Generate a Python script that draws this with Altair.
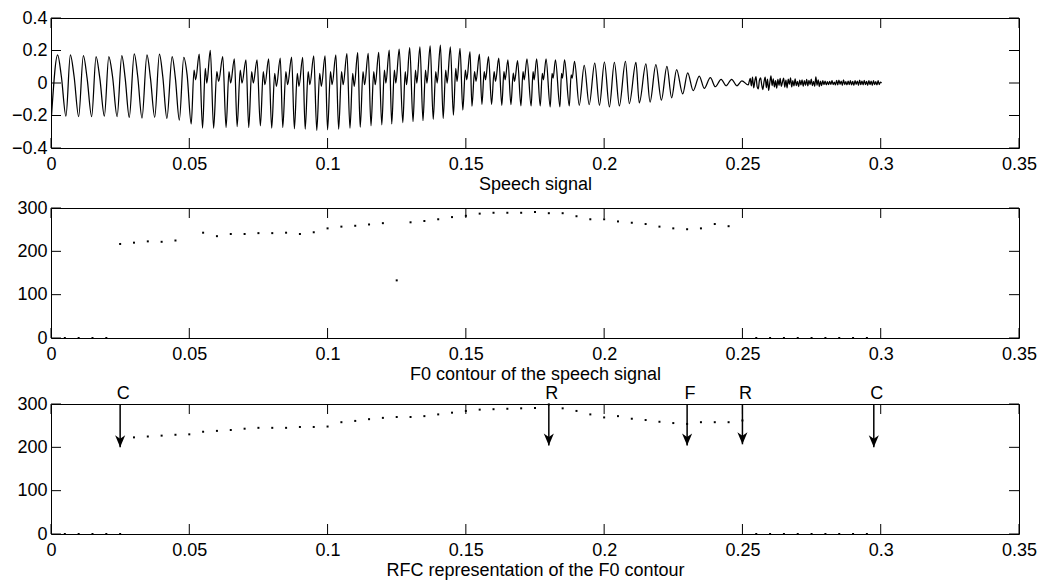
import altair as alt
import pandas as pd

# ------------------------------------------------------------------
# Speech signal: per-cycle extrema (ms, value)
# ------------------------------------------------------------------
trough_ms = [0.2, 5.4, 10.0, 14.7, 19.3, 23.9, 28.3, 32.9, 37.5, 41.9, 46.4, 50.7, 54.8,
             58.8, 63.3, 67.3, 71.5, 75.7, 79.8, 83.8, 88.0, 91.9, 96.1, 100.0, 104.0,
             108.1, 111.8, 115.7, 119.6, 123.2, 127.2, 130.9, 134.5, 138.2, 141.8, 145.5,
             148.9, 152.2, 155.8, 159.3, 163.0, 166.3, 169.9, 173.6, 176.9, 180.5, 184.0,
             187.4, 191.0, 194.6, 198.3, 201.9, 205.5, 209.1, 212.7, 216.6, 220.7, 224.4,
             228.4, 232.2, 236.2, 240.2, 244.1, 248.0, 252.1]
trough_v = [-0.198, -0.204, -0.207, -0.207, -0.204, -0.207, -0.211, -0.216, -0.211, -0.218,
            -0.228, -0.252, -0.278, -0.278, -0.274, -0.268, -0.274,
            -0.264, -0.278, -0.274, -0.282, -0.284, -0.292, -0.288, -0.284, -0.278, -0.272,
            -0.264, -0.258, -0.252, -0.244, -0.238, -0.232, -0.224, -0.218, -0.198,
            -0.167, -0.143, -0.131, -0.131, -0.137, -0.133, -0.141, -0.141, -0.141, -0.147,
            -0.147, -0.141, -0.137, -0.133, -0.137, -0.147, -0.141, -0.127, -0.123, -0.117,
            -0.105, -0.091, -0.067, -0.047, -0.033, -0.023, -0.017, -0.017, -0.012]
peak_ms = [2.4, 7.0, 11.7, 16.3, 20.9, 25.6, 30.1, 34.7, 39.2, 43.8, 48.0, 53.6, 57.6, 62.1,
           66.3, 70.5, 74.5,
           78.7, 82.9, 87.0, 91.0, 95.0, 99.1, 103.0, 107.0, 110.9, 114.7, 118.5, 122.3,
           125.9, 129.7, 133.4, 137.1, 140.8, 144.4, 147.9,
           151.5, 154.9, 158.2, 161.9, 165.2, 168.7, 172.1, 175.6, 179.0, 182.4, 185.7,
           189.3, 192.8, 196.6, 200.1, 203.7, 207.7, 211.5, 215.1, 218.7,
           222.7, 226.2, 230.2, 234.4, 238.4, 242.3, 246.1, 249.8]
peak_v = [0.173, 0.173, 0.169, 0.163, 0.163, 0.169, 0.179, 0.173, 0.177, 0.163, 0.157, 0.177,
          0.201, 0.163, 0.149, 0.143, 0.143,
          0.149, 0.153, 0.159, 0.157, 0.167, 0.167, 0.173, 0.181, 0.187, 0.183, 0.189, 0.203,
          0.209, 0.217, 0.223, 0.229, 0.233, 0.223, 0.213,
          0.193, 0.177, 0.163, 0.153, 0.143, 0.137, 0.149, 0.149, 0.149, 0.143, 0.143, 0.133,
          0.109, 0.123, 0.129, 0.127, 0.133, 0.127, 0.117, 0.113,
          0.103, 0.083, 0.063, 0.043, 0.033, 0.023, 0.023, 0.013]
# secondary bump / notch on the rising edge (None = plain cycle)
bump_v = ([None] * 11
          + [0.08, 0.09, 0.07, 0.07, 0.08, 0.07]
          + [0.07, 0.06, 0.07, 0.06, 0.07, 0.06, 0.07, 0.07, 0.06, 0.07, 0.07, 0.08, 0.08,
             0.07, 0.08, 0.08, 0.07, 0.08, 0.09]
          + [0.08, 0.07, 0.07, 0.07, 0.07, 0.06, 0.07, 0.07, 0.06, 0.06, 0.06, 0.05]
          + [None] * 16)
dip_v = ([None] * 11
         + [0.02, 0.0, 0.01, 0.0, 0.0, 0.0]
         + [-0.01, -0.02, -0.01, -0.02, -0.01, -0.02, -0.01, -0.01, -0.02, -0.01, -0.01, 0.0,
            0.0, -0.01, 0.0, 0.0, 0.0, 0.0, 0.01]
         + [0.02, 0.01, 0.02, 0.01, 0.02, 0.01, 0.02, 0.02, 0.02, 0.03, 0.03, 0.03]
         + [None] * 16)
# knee on the falling edge of the first cycles
knee_v = [0.04, 0.04, 0.03, 0.03, 0.04, 0.03, 0.04, 0.03, 0.04, 0.03, 0.05] + [None] * 53

# unvoiced tail (thousandths), sampled evenly from 252.4 ms to ~300.3 ms
noise_start_ms = 252.4
noise_step_ms = 0.4165
noise_mv = [5, 28, -18, 36, -30, 12, 40, -22, -36, 18, 32, -12, -40, 8, 36, -28, 24, -46, 2, 44,
            -16, 26, -24, 14, -32, 22, -14, 28, -20, 6, 30, -26, 18, -30, 24, -8, 32, -24, 14, -18,
            26, -16, 10, -22, 18, -12, 20, -20, 14, -14, 22, -18, 16, -10, 24, -16, 10, -20, 38, -14,
            20, -22, 12, -16, 14, -10, 12, -12, 8, -10, 10, -8, 14, -10, 6, -12, 16, -12, 18, -8,
            12, -14, 20, -10, 8, -12, 12, -10, 14, -12, 10, -14, 14, -8, 12, -14, 18, -10, 12, -12,
            16, -10, 10, -14, 14, -10, 12, -14, 14, -10, 8, -12, 14, -10, 6, 0]

# ------------------------------------------------------------------
# F0 contour (ms, Hz)
# ------------------------------------------------------------------
f0_ms = [5, 10, 15, 20, 25, 30, 35, 40, 45,
         55, 60, 65, 70, 75, 80, 85, 90, 95, 100, 105, 110, 115, 120, 125, 130, 135, 140, 145,
         150, 155, 160, 165, 170, 175, 180, 185, 190, 195, 200, 205, 210, 215, 220, 225, 230,
         235, 240, 245,
         255, 260, 265, 270, 275, 280, 285, 290, 295]
f0_hz = [0, 0, 0, 0, 217, 220, 223, 222, 225,
         243, 235, 240, 240, 242, 242, 243, 240, 244, 253, 257, 259, 262, 265, 133, 267, 270,
         274, 279, 282, 287, 289, 289, 289, 291, 288, 288, 281, 274, 274, 269, 266, 263, 257,
         253, 251, 253, 263, 258,
         0, 0, 0, 0, 0, 0, 0, 0, 0]

# RFC re-synthesised contour (ms, Hz)
rfc_ms = [5, 10, 15, 20, 25,
          30, 35, 40, 45, 50, 55, 60, 65, 70, 75, 80, 85, 90, 95, 100, 105, 110, 115, 120, 125,
          130, 135, 140, 145, 150, 155, 160, 165, 170, 175, 180, 185, 190, 195, 200, 205, 210,
          215, 220, 225, 230, 235, 240, 245, 250,
          255, 260, 265, 270, 275, 280, 285, 290, 295]
rfc_hz = [0, 0, 0, 0, 0,
          223, 225, 227, 229, 230, 236, 238, 240, 243, 245, 245, 245, 247, 247, 248,
          258, 261, 265, 268, 270, 270, 272, 276, 280, 284,
          287, 288, 289, 290, 291, 299, 290, 284, 276, 269,
          272, 266, 263, 259, 256, 254, 258, 258, 258, 262,
          0, 0, 0, 0, 0, 0, 0, 0, 0]

# RFC events
event_s = [0.025, 0.18, 0.23, 0.25, 0.2975]
event_from_hz = [300, 300, 300, 300, 300]
event_tip_hz = [200, 204, 204, 207, 200]
event_label = ["C", "R", "F", "R", "C"]

x_ticks = [0, 0.05, 0.1, 0.15, 0.2, 0.25, 0.3, 0.35]
y1_ticks = [-0.4, -0.2, 0, 0.2, 0.4]
y23_ticks = [0, 100, 200, 300]

# ------------------------------------------------------------------
FONT = "Liberation Sans"
W, H = 968, 130
TICK = 10
HEAD = "M0,0L-0.42,-1L0,-0.72L0.42,-1Z"
LABEL_EXPR = "format(datum.value, '~g')"

# build the waveform polyline from the read extrema
ts, vs = [], []
for i in range(len(peak_ms)):
    t0, t1, tp = trough_ms[i], trough_ms[i + 1], peak_ms[i]
    ts.append(t0); vs.append(trough_v[i])
    if bump_v[i] is not None:
        ts.append(t0 + 0.35 * (tp - t0)); vs.append(bump_v[i])
        ts.append(t0 + 0.55 * (tp - t0)); vs.append(dip_v[i])
    ts.append(tp); vs.append(peak_v[i])
    if knee_v[i] is not None:
        ts.append(tp + 0.45 * (t1 - tp)); vs.append(knee_v[i])
ts.append(trough_ms[-1]); vs.append(trough_v[-1])
for k, n in enumerate(noise_mv):
    ts.append(noise_start_ms + k * noise_step_ms); vs.append(n / 1000.0)

wave_df = pd.DataFrame({"t": [t / 1000.0 for t in ts], "v": vs})
f0_df = pd.DataFrame({"t": [t / 1000.0 for t in f0_ms], "v": f0_hz})
rfc_df = pd.DataFrame({"t": [t / 1000.0 for t in rfc_ms], "v": rfc_hz})
ev_df = pd.DataFrame({"t": event_s, "v": event_from_hz, "tip": event_tip_hz, "lbl": event_label})
ev_tip_df = pd.DataFrame({"t": event_s, "v": event_tip_hz})
xt_df = pd.DataFrame({"t": x_ticks})

x_scale = alt.Scale(domain=[0, 0.35], nice=False, zero=False)
y1_scale = alt.Scale(domain=[-0.4, 0.4], nice=False, zero=False)
y23_scale = alt.Scale(domain=[0, 300], nice=False, zero=False)


def x_axis(title):
    return alt.Axis(values=x_ticks, labelExpr=LABEL_EXPR, title=title, labelFlush=False,
                    ticks=False, tickSize=0, domain=False, grid=False,
                    labelPadding=7, titlePadding=2.5)


def y_axis(vals):
    return alt.Axis(values=vals, labelExpr=LABEL_EXPR, title=None, ticks=False, tickSize=0,
                    domain=False, grid=False, labelPadding=4)


def panel(main_layers, y_vals, y_scale, title):
    """Every layer shares identical axis definitions so they merge into one."""
    xa, ya = x_axis(title), y_axis(y_vals)
    X = alt.X("t:Q", scale=x_scale, axis=xa)
    Y = alt.Y("v:Q", scale=y_scale, axis=ya)
    layers = [f(X, Y) for f in main_layers]
    yt_df = pd.DataFrame({"v": y_vals})
    bx = alt.Chart(xt_df).mark_rule(color="black", strokeWidth=1)
    by = alt.Chart(yt_df).mark_rule(color="black", strokeWidth=1)
    layers += [
        bx.encode(x=X, y=alt.value(H), y2=alt.value(H - TICK)),
        bx.encode(x=X, y=alt.value(0), y2=alt.value(TICK)),
        by.encode(y=Y, x=alt.value(0), x2=alt.value(TICK)),
        by.encode(y=Y, x=alt.value(W), x2=alt.value(W - TICK)),
    ]
    return alt.layer(*layers).properties(width=W, height=H)


p1 = panel([
    lambda X, Y: alt.Chart(wave_df).mark_line(color="black", strokeWidth=1.25,
                                              interpolate="monotone").encode(x=X, y=Y),
], y1_ticks, y1_scale, "Speech signal")

p2 = panel([
    lambda X, Y: alt.Chart(f0_df).mark_square(size=4, color="black", opacity=1).encode(x=X, y=Y),
], y23_ticks, y23_scale, "F0 contour of the speech signal")

p3 = panel([
    lambda X, Y: alt.Chart(rfc_df).mark_square(size=4, color="black", opacity=1).encode(x=X, y=Y),
    lambda X, Y: alt.Chart(ev_df).mark_rule(color="black", strokeWidth=1.5).encode(
        x=X, y=Y, y2="tip:Q"),
    lambda X, Y: alt.Chart(ev_tip_df).mark_point(shape=HEAD, size=576, filled=True,
                                                 color="black", opacity=1,
                                                 strokeWidth=0).encode(x=X, y=Y),
    lambda X, Y: alt.Chart(ev_df).mark_text(fontSize=18, font=FONT, color="black",
                                            baseline="middle", align="center",
                                            dx=3).encode(x=X, y=alt.value(-10), text="lbl:N"),
], y23_ticks, y23_scale, "RFC representation of the F0 contour")

top_two = alt.vconcat(p1, p2, spacing=4)
chart = (
    alt.vconcat(top_two, p3, spacing=0)
    .properties(padding={"left": 2, "top": 0, "right": 5, "bottom": 0})
    .configure(font=FONT)
    .configure_view(stroke="black", strokeWidth=1)
    .configure_axis(labelFontSize=18, titleFontSize=18, labelFont=FONT, titleFont=FONT,
                    labelColor="black", titleColor="black", titleFontWeight="normal")
)

chart.save("out.html", embed_options={"renderer": "svg", "actions": False})
